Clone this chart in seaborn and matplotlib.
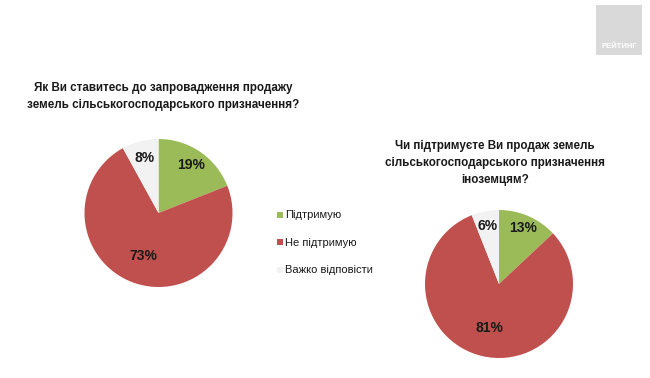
import numpy as np
import matplotlib.pyplot as plt
import seaborn as sns
from matplotlib.patches import Rectangle

# дані
categories = ['Підтримую', 'Не підтримую', 'Важко відповісти']
sale_values = [19, 73, 8]
foreign_values = [13, 81, 6]
title_sale = 'Як Ви ставитесь до запровадження продажу\nземель сільськогосподарського призначення?'
title_foreign = 'Чи підтримуєте Ви продаж земель\nсільськогосподарського призначення\nіноземцям?'
colors = ['#9BBB59', '#C0504D', '#F2F2F2']

sns.set_style('white')
plt.rcParams['font.family'] = ['Liberation Sans', 'DejaVu Sans']

W, H = 650, 378
fig = plt.figure(figsize=(W / 100, H / 100), dpi=100)
fig.patch.set_facecolor('white')


def px_axes(cx, cy, r):
    # квадратні осі за піксельним центром і радіусом
    return fig.add_axes([(cx - r) / W, (H - cy - r) / H, 2 * r / W, 2 * r / H])


def draw_pie(ax, values, dists):
    wedges, _ = ax.pie(values, colors=colors, startangle=90, counterclock=False,
                       radius=1, wedgeprops=dict(linewidth=0))
    for w, v, d in zip(wedges, values, dists):
        ang = np.deg2rad((w.theta1 + w.theta2) / 2)
        ax.text(d * np.cos(ang), d * np.sin(ang), f'{v}%', ha='center', va='center',
                fontsize=10, fontweight='bold', color='#1a1a1a')
    ax.set_xlim(-1, 1)
    ax.set_ylim(-1, 1)
    ax.set_aspect('equal')
    ax.axis('off')


ax1 = px_axes(158.5, 213, 74)
draw_pie(ax1, sale_values, [0.79, 0.62, 0.77])

ax2 = px_axes(499, 284, 74)
draw_pie(ax2, foreign_values, [0.82, 0.61, 0.80])

# заголовки
fig.text(163 / W, 1 - 96.5 / H, title_sale, ha='center', va='center',
         fontsize=8.4, fontweight='bold', color='#1a1a1a', linespacing=1.45)
fig.text(495 / W, 1 - 163 / H, title_foreign, ha='center', va='center',
         fontsize=8.4, fontweight='bold', color='#1a1a1a', linespacing=1.5)

# легенда
for i, (lab, c) in enumerate(zip(categories, colors)):
    y = 215 + i * 27.5
    fig.patches.append(Rectangle((277 / W, 1 - (y + 3) / H), 6 / W, 6 / H,
                                 transform=fig.transFigure, facecolor=c, edgecolor='none'))
    fig.text(285 / W, 1 - y / H, lab, ha='left', va='center', fontsize=8, color='#1a1a1a')

# логотип
fig.patches.append(Rectangle((596 / W, 1 - 55 / H), 46 / W, 50 / H,
                             transform=fig.transFigure, facecolor='#D9D9D9', edgecolor='none'))
fig.text(619 / W, 1 - 47 / H, 'РЕЙТИНГ', ha='center', va='center', fontsize=5.5,
         fontweight='bold', color='white')

fig.savefig('out.png', dpi=100)
